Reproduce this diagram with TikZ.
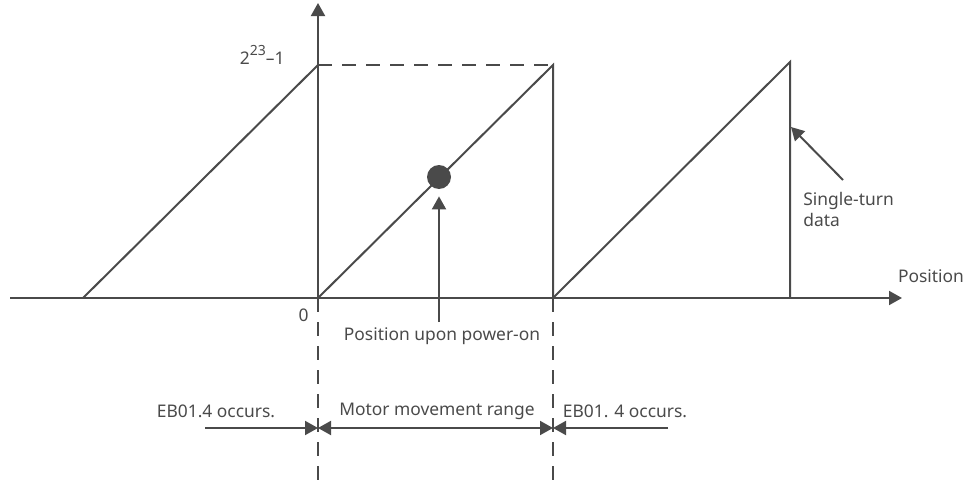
\documentclass[tikz,border=0pt]{standalone}
\usepackage{fontspec}
\setmainfont{Noto Sans}
\usetikzlibrary{arrows.meta, calc}
\definecolor{ink}{HTML}{4A4A4A}

\begin{document}
\begin{tikzpicture}[
    x=0.5pt, y=-0.5pt,
    line/.style  = {draw=ink, line width=1pt},
    guide/.style = {line, dash pattern=on 7pt off 5pt},
    tip/.style   = {line, -{Triangle[length=6.5pt, width=7pt]}},
    flow/.style  = {tip},
    label/.style = {text=ink, font=\fontsize{8.7}{10.5}\selectfont, inner sep=1pt},
  ]
  \useasboundingbox (0,0) rectangle (965,482);

  % axes and reference points
  \coordinate (xs) at (10,298);
  \coordinate (xe) at (902,298);
  \coordinate (o)  at (318,298);
  \coordinate (ye) at (318,3);
  \coordinate (top) at (318,65);
  \coordinate (ob) at (318,482);
  \coordinate (a) at (83,298);
  \coordinate (m) at (553,298);
  \coordinate (mt) at (553,65);
  \coordinate (mb) at (553,482);
  \coordinate (r) at (790,298);
  \coordinate (rt) at (790,62);

  \draw[flow] (xs) -- (xe);
  \draw[flow] (o) -- (ye);
  \draw[guide] (o) -- (ob);
  \draw[guide] (m) -- (mb);
  \draw[guide] (top) -- (mt);

  % saw-tooth of the single-turn data
  \draw[line] (a) -- (top);
  \draw[line] (o) -- (mt) -- (m);
  \draw[line] (m) -- (rt) -- (r);

  % power-on position
  \node[circle, fill=ink, minimum size=12pt, inner sep=0pt] (dot) at (439,177) {};
  \coordinate (pb) at (439,322);
  \draw[flow] (pb) -- ([yshift=-3.5pt]dot.south);
  \node[label] (pwr) at (442,336) {Position upon power-on};

  \node[label, anchor=east] (zero) at (311,315) {0};
  \node[label, anchor=east] (max) at (287,55)
      {2\raisebox{0.9ex}{\fontsize{7}{8}\selectfont 23}–1};
  \node[label] (pos) at (931,276) {Position};

  \node[label, anchor=west, align=left] (st) at (801,209) {Single-turn\\data};
  \coordinate (sa) at (843,180);
  \draw[flow] (sa) -- (791,127);

  % ranges below the axis
  \coordinate (ll) at (205,428);
  \coordinate (lr) at (318,428);
  \coordinate (rl) at (553,428);
  \coordinate (rr) at (668,428);
  \draw[flow] (ll) -- (lr);
  \draw[line, {Triangle[length=6.5pt, width=7pt]}-{Triangle[length=6.5pt, width=7pt]}] (lr) -- (rl);
  \draw[flow] (rr) -- (rl);
  \node[label] (eb1) at (216,411) {EB01.4 occurs.};
  \node[label] (rng) at (437,411) {Motor movement range};
  \node[label] (eb2) at (625,411) {EB01. 4 occurs.};
\end{tikzpicture}
\end{document}
